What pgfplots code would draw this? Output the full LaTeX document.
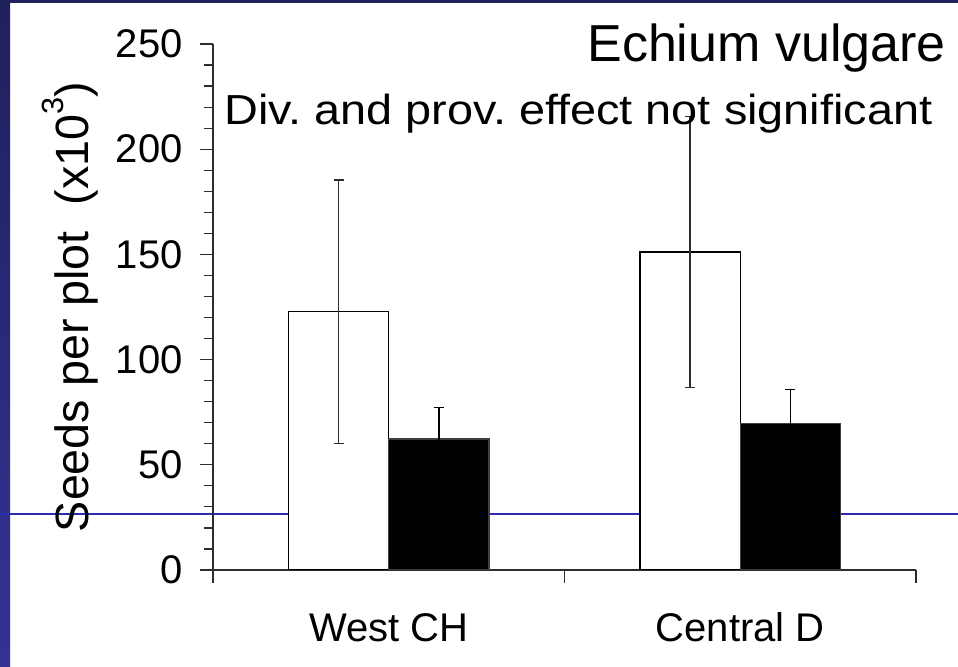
\documentclass[border=0pt]{standalone}
\usepackage{fontspec}
\setmainfont{Liberation Sans}
\usepackage{pgfplots}
\pgfplotsset{compat=1.18}
\definecolor{navy}{RGB}{32,32,92}
\definecolor{stripbot}{RGB}{51,51,150}
\definecolor{slideline}{RGB}{45,45,175}
\definecolor{axisgray}{RGB}{45,45,45}
\frenchspacing
\begin{document}
\begin{tikzpicture}
\useasboundingbox (0,0) rectangle (718.5pt,500.25pt);
\fill[white] (0,0) rectangle (718.5pt,500.25pt);
\shade[top color=navy, bottom color=stripbot] (0,0) rectangle (7.5pt,500.25pt);
\fill[navy] (0,498pt) rectangle (718.5pt,500.25pt);
\draw[slideline, line width=0.9pt] (0,114.75pt) -- (718.5pt,114.75pt);
\begin{axis}[
  at={(159.75pt,72.75pt)}, anchor=south west,
  scale only axis, width=527.25pt, height=394.5pt,
  xmin=0, xmax=2, ymin=0, ymax=250,
  axis x line=bottom, axis y line=left,
  axis line style={-, draw=axisgray, line width=0.9pt},
  every tick/.style={draw=axisgray, line width=0.9pt},
  tick align=outside,
  ytick={0,50,100,150,200,250}, minor y tick num=4,
  major tick length=9.5pt, minor tick length=6.75pt,
  xtick={0,1,2}, xticklabels={,,},
  extra x ticks={0.5,1.5}, extra x tick labels={West CH, Central D},
  extra x tick style={major tick length=0pt},
  xticklabel style={anchor=base, yshift=-54pt},
  yticklabel style={inner sep=0pt, xshift=-13pt},
  tick label style={font=\fontsize{30}{36}\selectfont},
  /pgf/number format/assume math mode=true,
]
\addplot[ybar, bar width=0.285, bar shift=0pt, fill=white, draw=black, line width=0.9pt,
  error bars/.cd, y dir=both, y explicit,
  error bar style={line width=1pt, draw=axisgray},
  error mark options={rotate=90, mark size=3.75pt, line width=1pt, draw=axisgray}]
  coordinates {(0.3575,122.8) +- (0,62.6) (1.3575,151.1) +- (0,64.5)};
\addplot[ybar, bar width=0.285, bar shift=0pt, fill=black, draw=black!75, line width=0.9pt,
  error bars/.cd, y dir=both, y explicit,
  error bar style={line width=1pt, draw=black},
  error mark options={rotate=90, mark size=3.75pt, line width=1pt, draw=black}]
  coordinates {(0.6425,62.3) +- (0,14.8) (1.6425,69.7) +- (0,16)};
\end{axis}
\node[anchor=base east, inner sep=0pt, font=\fontsize{39}{46}\selectfont] at (709.5pt,453.75pt) {Echium vulgare};
\node[anchor=base west, inner sep=0pt, xscale=1.115, font=\fontsize{31.5}{38}\selectfont] at (168pt,406.5pt) {Div. and prov. effect not significant};
\node[rotate=90, anchor=base, inner sep=0pt, font=\fontsize{35}{42}\selectfont] at (66.75pt,270pt) {Seeds per plot\ \ (x10\raisebox{0.55em}{\fontsize{23}{28}\selectfont 3})};
\end{tikzpicture}
\end{document}
